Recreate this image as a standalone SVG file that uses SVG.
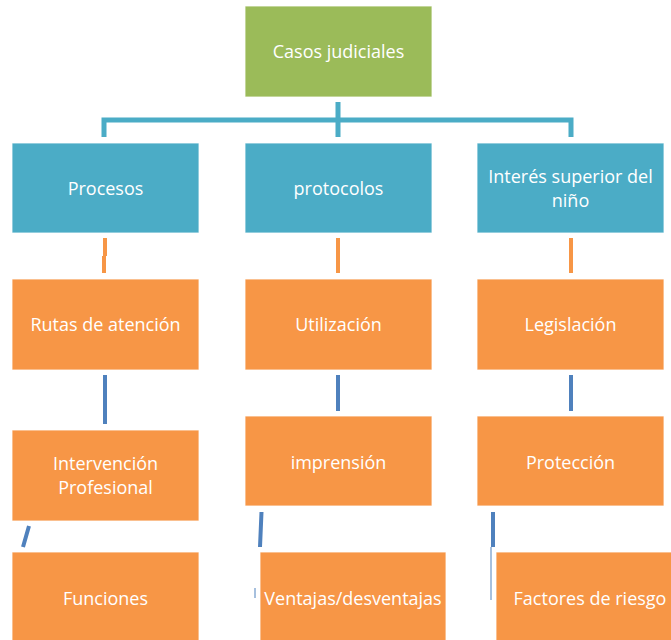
<svg xmlns="http://www.w3.org/2000/svg" width="671" height="640" viewBox="0 0 671 640">
<style>
.box{stroke:#ffffff;stroke-width:1;stroke-opacity:0.8}
.g{fill:#9BBB59}.b{fill:#4BACC6}.o{fill:#F79646}
text{font-family:"Open Sans","Liberation Sans",sans-serif;font-size:18px;fill:#ffffff;text-anchor:middle;dominant-baseline:central}
.ct{stroke:#4BACC6;stroke-width:5;fill:none}
.co{stroke:#F79646;stroke-width:4;fill:none}
.cd{stroke:#4F81BD;stroke-width:4;fill:none}
</style>
<rect width="671" height="640" fill="#ffffff"/>
<g id="connectors">
<path class="ct" d="M338,102 V137 M104,137 V120 H571 V137"/>
<path class="co" d="M105,238 V256 M104,256 V273 M338,238 V273 M571,238 V273"/>
<path class="cd" d="M105,375 V424 M338,375 V411 M571,375 V411"/>
<path class="cd" d="M29,526 L23,547 M261.5,512 L260,547 M493,512 V547"/>
<path stroke="#4F81BD" stroke-width="1" d="M491,547 V600 M255,588 V598"/>
</g>
<g id="n-casos"><rect class="box g" x="245" y="6" width="187" height="91"/><text x="338.5" y="51">Casos judiciales</text></g>
<g id="n-procesos"><rect class="box b" x="12" y="143" width="187" height="90"/><text x="105.5" y="188">Procesos</text></g>
<g id="n-protocolos"><rect class="box b" x="245" y="143" width="187" height="90"/><text x="338.5" y="188">protocolos</text></g>
<g id="n-interes"><rect class="box b" x="477" y="143" width="187" height="90"/><text x="570.5" y="176">Interés superior del</text><text x="570.5" y="200">niño</text></g>
<g id="n-rutas"><rect class="box o" x="12" y="279" width="187" height="91"/><text x="105.5" y="324">Rutas de atención</text></g>
<g id="n-utilizacion"><rect class="box o" x="245" y="279" width="187" height="91"/><text x="338.5" y="324">Utilización</text></g>
<g id="n-legislacion"><rect class="box o" x="477" y="279" width="187" height="91"/><text x="570.5" y="324">Legislación</text></g>
<g id="n-intervencion"><rect class="box o" x="12" y="430" width="187" height="91"/><text x="105.5" y="463">Intervención</text><text x="105.5" y="487">Profesional</text></g>
<g id="n-imprension"><rect class="box o" x="245" y="416" width="187" height="90"/><text x="338.5" y="462">imprensión</text></g>
<g id="n-proteccion"><rect class="box o" x="477" y="416" width="187" height="90"/><text x="570.5" y="462">Protección</text></g>
<g id="n-funciones"><rect class="box o" x="12" y="552" width="187" height="90"/><text x="105.5" y="598">Funciones</text></g>
<g id="n-ventajas"><rect class="box o" x="260" y="552" width="186" height="90"/><text x="353" y="598">Ventajas/desventajas</text></g>
<g id="n-factores"><rect class="box o" x="496" y="552" width="180" height="90"/><text x="590" y="598">Factores de riesgo</text></g>
</svg>
